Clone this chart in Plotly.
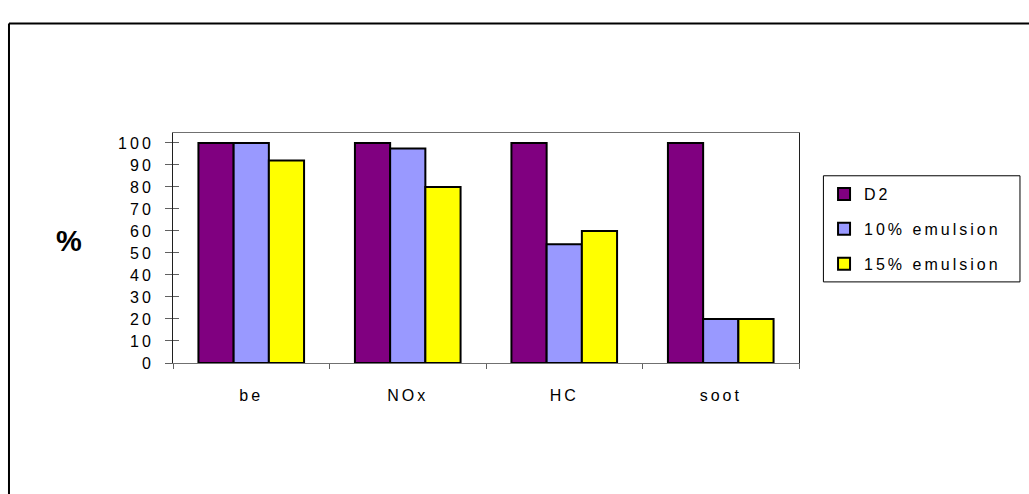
import plotly.graph_objects as go

categories = ["be", "NOx", "HC", "soot"]
series_names = ["D2", "10% emulsion", "15% emulsion"]
d2 = [100, 100, 100, 100]
emul10 = [100, 97.5, 54, 20]
emul15 = [92, 80, 60, 20]
y_ticks = [0, 10, 20, 30, 40, 50, 60, 70, 80, 90, 100]
colors = ["#800080", "#9999FF", "#FFFF00"]

FONT = "Liberation Sans, Arial, sans-serif"
FS0 = 15.9  # initial size; post-script re-renders at 16 with letter spacing

fig = go.Figure()
for i, (name, vals) in enumerate(zip(series_names, [d2, emul10, emul15])):
    fig.add_trace(go.Bar(
        x=categories, y=vals, name=name, legendgroup=name,
        marker=dict(color=colors[i], line=dict(color="black", width=2)),
    ))

fig.update_layout(
    width=1029, height=494,
    margin=dict(l=173, r=230, t=133, b=131),
    paper_bgcolor="white", plot_bgcolor="white",
    barmode="group", bargap=0.325, bargroupgap=0,
    font=dict(family=FONT, size=14, color="black"),
    showlegend=True,
    legend=dict(
        x=1.04, y=0.808, xanchor="left", yanchor="top",
        borderwidth=0, bgcolor="rgba(0,0,0,0)",
        font=dict(family=FONT, size=FS0, color="black"),
        tracegroupgap=11, itemwidth=30,
    ),
    xaxis=dict(
        showline=True, linecolor="#707070", linewidth=1, mirror=True,
        ticks="outside", tickson="boundaries", ticklen=5, tickcolor="#606060",
        ticklabelstandoff=18, showgrid=False,
        tickfont=dict(family=FONT, size=FS0, color="black"),
    ),
    yaxis=dict(
        range=[0, 104.5], tickvals=y_ticks,
        showline=True, linecolor="#202020", linewidth=1, mirror=True,
        ticks="outside", ticklen=7, tickcolor="#606060",
        ticklabelstandoff=8,
        showgrid=False, zeroline=False,
        tickfont=dict(family=FONT, size=FS0, color="black"),
    ),
    yaxis2=dict(
        overlaying="y", matches="y", range=[0, 104.5], tickvals=y_ticks,
        ticks="inside", ticklen=6, tickcolor="#606060",
        showticklabels=False, showgrid=False, zeroline=False, showline=False,
    ),
    annotations=[dict(
        text="<b>%</b>", xref="paper", yref="paper", x=-0.19, y=0.53,
        showarrow=False, font=dict(family=FONT, size=29, color="black"),
    )],
    shapes=[
        dict(type="line", xref="paper", yref="paper", x0=-0.262, x1=1.5,
             y0=1.4757, y1=1.4757, line=dict(color="black", width=2)),
        dict(type="line", xref="paper", yref="paper", x0=-0.262, x1=-0.262,
             y0=1.4757, y1=-0.7, line=dict(color="black", width=2)),
        # legend frame
        dict(type="rect", xref="paper", yref="paper", x0=1.039, x1=1.353,
             y0=0.3526, y1=0.814, line=dict(color="black", width=1),
             fillcolor="rgba(0,0,0,0)"),
    ],
)
# dummy trace to activate yaxis2 for crossing tick marks
fig.add_trace(go.Scatter(x=[None], y=[None], yaxis="y2", showlegend=False, hoverinfo="skip"))

post = """
var st = document.createElement('style');
st.textContent = 'body{margin:0 !important;} svg text{letter-spacing:3px;} .annotation text{letter-spacing:0 !important;}';
document.head.appendChild(st);
var gd = document.getElementById('{plot_id}');
Plotly.relayout(gd, {'xaxis.tickfont.size': 16, 'yaxis.tickfont.size': 16, 'legend.font.size': 16});
"""

fig.write_html("out.html", post_script=post, config={"displayModeBar": False})
